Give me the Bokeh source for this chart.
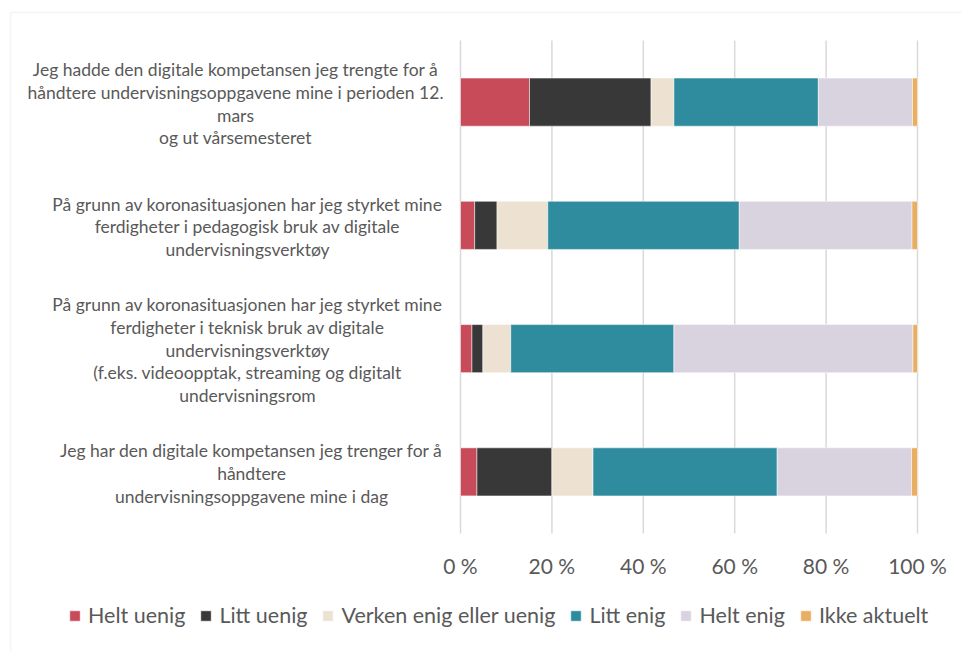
from bokeh.plotting import figure
from bokeh.models import (ColumnDataSource, Range1d, Legend, LegendItem, BoxAnnotation)
from bokeh.core.properties import value
from bokeh.embed import file_html
from bokeh.resources import INLINE

# Survey statements (top to bottom), one list entry per printed line
statements = [
    ["Jeg hadde den digitale kompetansen jeg trengte for å",
     "håndtere undervisningsoppgavene mine i perioden 12.",
     "mars",
     "og ut vårsemesteret"],
    ["På grunn av koronasituasjonen har jeg styrket mine",
     "ferdigheter i pedagogisk bruk av digitale",
     "undervisningsverktøy"],
    ["På grunn av koronasituasjonen har jeg styrket mine",
     "ferdigheter i teknisk bruk av digitale",
     "undervisningsverktøy",
     "(f.eks. videoopptak, streaming og digitalt",
     "undervisningsrom"],
    ["Jeg har den digitale kompetansen jeg trenger for å",
     "håndtere",
     "undervisningsoppgavene mine i dag"],
]

# Response categories and shares (%) per statement
responses = ["Helt uenig", "Litt uenig", "Verken enig eller uenig", "Litt enig", "Helt enig", "Ikke aktuelt"]
helt_uenig = [15.1, 3.1, 2.5, 3.6]
litt_uenig = [26.6, 4.9, 2.4, 16.4]
verken = [5.0, 11.1, 6.1, 9.0]
litt_enig = [31.6, 41.9, 35.7, 40.3]
helt_enig = [20.6, 37.8, 52.3, 29.4]
ikke_aktuelt = [1.1, 1.2, 1.0, 1.3]

tick_values = [0, 20, 40, 60, 80, 100]
tick_labels = ["0 %", "20 %", "40 %", "60 %", "80 %", "100 %"]

colors = ["#C84B5A", "#383838", "#EDE1D1", "#2E8C9E", "#D9D2DF", "#E8AE62"]
TEXT = "#595959"
FONT = "Lato"

W, H = 962, 651
PLOT_LEFT, PLOT_RIGHT = 460, 917      # pixel span of 0..100 %
PLOT_TOP, PLOT_BOTTOM = 40, 533       # pixel span of the category band
n = len(statements)
px_per_pct = (PLOT_RIGHT - PLOT_LEFT) / 100
px_per_row = (PLOT_BOTTOM - PLOT_TOP) / n

x_range = Range1d(-PLOT_LEFT / px_per_pct, 100 + (W - PLOT_RIGHT) / px_per_pct)
y_range = Range1d(n - (H - PLOT_TOP) / px_per_row, n + PLOT_TOP / px_per_row)

# rows from the top: first statement in the top band
row_y = [n - i - 0.5 for i in range(n)]

series = [helt_uenig, litt_uenig, verken, litt_enig, helt_enig, ikke_aktuelt]
data = {"y": row_y}
for name, vals in zip(responses, series):
    data[name] = vals
source = ColumnDataSource(data)

p = figure(width=W, height=H, output_backend="svg", toolbar_location=None,
           x_range=x_range, y_range=y_range, x_axis_type=None, y_axis_type=None,
           min_border=0)
p.outline_line_color = None
p.grid.visible = False
p.background_fill_color = "white"
p.border_fill_color = "white"

# vertical gridlines across the category band
p.segment(x0=tick_values, x1=tick_values, y0=[0] * len(tick_values), y1=[n] * len(tick_values),
          line_color="#D9D9D9", line_width=1.5)

renderers = p.hbar_stack(responses, y="y", height=0.39, color=colors,
                         line_color="white", line_width=0.5, source=source)

# percentage tick labels
tick_y = n - (565 - PLOT_TOP) / px_per_row
p.text(x=tick_values, y=[tick_y] * len(tick_values), text=tick_labels,
       text_align="center", text_baseline="middle", text_font=value(FONT),
       text_font_size="21px", text_color=TEXT)

# statement labels: each block's lines centred on a common axis left of the bars
LINE_PX = 22.8
block_center_px = [-225, -213, -213, -209]
lx, ly, lt, loff = [], [], [], []
for i, lines in enumerate(statements):
    m = len(lines)
    for k, line in enumerate(lines):
        lx.append(0)
        ly.append(row_y[i] - ((k - (m - 1) / 2) * LINE_PX + 1.5) / px_per_row)
        lt.append(line)
        loff.append(block_center_px[i])
p.text(x=lx, y=ly, text=lt, x_offset=loff, text_align="center", text_baseline="middle",
       text_font=value(FONT), text_font_size="17.5px", text_color=TEXT)

legend = Legend(items=[LegendItem(label=nm, renderers=[r]) for nm, r in zip(responses, renderers)],
                orientation="horizontal", location=(68, 23),
                label_text_font=FONT, label_text_font_size="21.5px", label_text_color=TEXT,
                glyph_width=13, glyph_height=13, label_standoff=7, spacing=14,
                padding=0, margin=0, border_line_color=None, background_fill_alpha=0)
p.add_layout(legend)

# light edges along the left and top of the chart area
p.add_layout(BoxAnnotation(left=10, right=W + 20, top=H - 12, bottom=-20,
                           left_units="screen", right_units="screen",
                           top_units="screen", bottom_units="screen",
                           fill_alpha=0, line_color="#D9D9D9", line_width=1.5))

open("out.html", "w").write(file_html(p, INLINE))
